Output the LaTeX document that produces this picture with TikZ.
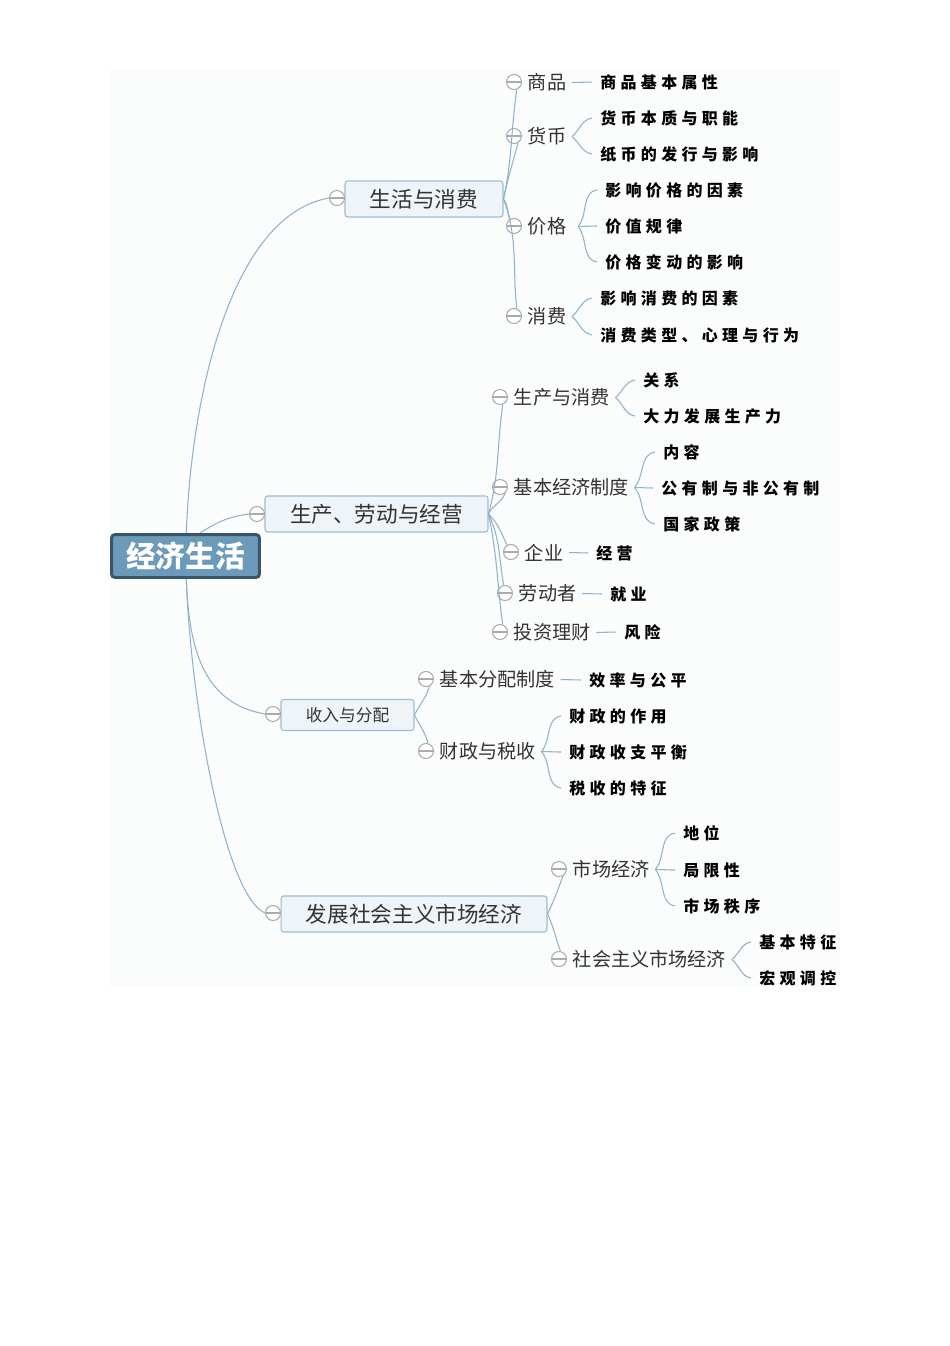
\documentclass[tikz,border=0pt]{standalone}
\usepackage{fontspec}
\setmainfont{Noto Sans CJK SC}
\newfontfamily\leaffont[LetterSpace=27]{Noto Sans CJK SC}
\usetikzlibrary{positioning}
\definecolor{linkblue}{HTML}{8FB3CC}
\definecolor{boxedge}{HTML}{9DBDD3}
\definecolor{boxfill}{HTML}{EFF4F8}
\definecolor{rootfill}{HTML}{6C9ABA}
\definecolor{rootedge}{HTML}{3A5468}
\definecolor{togglegray}{HTML}{ABABAB}
\definecolor{sheet}{HTML}{FBFCFC}
\definecolor{inkgray}{HTML}{333333}
\tikzset{
    root/.style={draw=rootedge, line width=1.7pt, fill=rootfill, rounded corners=2pt, text=white,
        font=\fontsize{16.9}{18}\selectfont\bfseries, minimum width=2.96cm, minimum height=0.86cm, inner sep=0pt},
    topic/.style={draw=boxedge, line width=0.6pt, fill=boxfill, rounded corners=1.5pt, text=inkgray,
        font=\fontsize{12.3}{14}\selectfont, minimum height=0.72cm, inner sep=0pt},
    smalltopic/.style={topic, font=\fontsize{9.5}{11}\selectfont, minimum height=0.62cm},
    toggle/.style={draw=togglegray, line width=0.6pt, fill=white, circle, minimum size=0.3cm, inner sep=0pt,
        path picture={\draw[togglegray, line width=0.6pt] (path picture bounding box.west) -- (path picture bounding box.east);}},
    subtopic/.style={text=inkgray, font=\fontsize{10.9}{13}\selectfont, inner xsep=0.11cm, inner ysep=0pt, yshift=-0.01cm},
    leaf/.style={anchor=west, text=black, font=\leaffont\fontsize{9.1}{10}\selectfont\bfseries, inner xsep=0.16cm, inner ysep=0pt},
    link/.style={draw=linkblue, line width=0.6pt}
}
\begin{document}
\begin{tikzpicture}[x=0.02cm, y=-0.02cm]
    \useasboundingbox (0,0) rectangle (950,1346);
    \fill[sheet] (110,68) rectangle (840,988);

    % Centre and main branches
    \node[root] (root) at (185.5,556) {经济生活};
    \node[topic, minimum width=3.16cm] (life) at (424,199) {生活与消费};
    \node[topic, minimum width=4.46cm] (work) at (376.5,514) {生产、劳动与经营};
    \node[smalltopic, minimum width=2.66cm] (income) at (347.5,715) {收入与分配};
    \node[topic, minimum width=5.32cm] (market) at (414,914) {发展社会主义市场经济};
    \foreach \nm/\xx/\yy in {life/337/198, work/257/514, income/273/714, market/273/913}
        \node[toggle] (t\nm) at (\xx,\yy) {};

    \draw[link] (root) to[out=88, in=190, out distance=2.7cm, in distance=2cm] (tlife.west);
    \draw[link] (root.58) to[out=32, in=187] (twork.west);
    \draw[link] (root) to[out=-88, in=170, out distance=1.5cm, in distance=1.2cm] (tincome.west);
    \draw[link] (root) to[out=-88, in=156, out distance=2.4cm, in distance=0.9cm] (tmarket.west);

    % Second level
    \foreach \nm/\xx/\yy/\txt in {goods/514/82/商品, money/514/136/货币, price/514/226/价格, spend/514/316/消费,
        prod/500/397/生产与消费, basic/500/487/基本经济制度, firm/511/552/企业, labor/505/593/劳动者, invest/500/632/投资理财,
        share/426/679/基本分配制度, tax/426/751/财政与税收,
        mkt/559/869/市场经济, social/559/959/社会主义市场经济} {
        \node[toggle] (t\nm) at (\xx,\yy) {};
        \node[subtopic, right=0pt of t\nm] (l\nm) {\txt};
    }

    \foreach \from/\to/\ang/\o/\i in {life/goods/-70/78/262, life/money/-60/78/255, life/price/120/-55/110, life/spend/70/-70/96,
        work/prod/-70/75/262, work/basic/-50/65/250, work/firm/120/-45/115, work/labor/100/-65/100, work/invest/70/-78/98,
        income/share/-65/65/255, income/tax/75/-65/105,
        market/mkt/-60/65/250, market/social/80/-65/110}
        \draw[link] (\from.east) to[out=\o, in=\i] (t\to.\ang);

    % Leaves
    \foreach \nm/\xx/\yy/\txt in {a1/592/82/商品基本属性, b1/592/118/货币本质与职能, b2/592/154/纸币的发行与影响,
        c1/597/190/影响价格的因素, c2/597/226/价值规律, c3/597/262/价格变动的影响,
        d1/592/298/影响消费的因素, d2/592/335/消费类型、心理与行为,
        e1/635/380/关系, e2/635/416/大力发展生产力,
        f1/655/452/内容, f2/653/488/公有制与非公有制, f3/655/524/国家政策,
        g1/588/553/经营, h1/602/594/就业, i1/616/632/风险,
        j1/581/680/效率与公平, k1/561/716/财政的作用, k2/561/752/财政收支平衡, k3/561/788/税收的特征,
        m1/675/833/地位, m2/675/870/局限性, m3/675/906/市场秩序,
        n1/751/942/基本特征, n2/751/978/宏观调控}
        \node[leaf] (\nm) at (\xx,\yy) {\txt};

    % Straight leaf links
    \foreach \from/\to in {goods/a1, firm/g1, labor/h1, invest/i1, share/j1}
        \draw[link] (l\from.east) -- (\to.west);
    % Fanned leaf links
    \foreach \from/\to/\o/\i in {money/b1/40/190, money/b2/-40/170,
        spend/d1/40/190, spend/d2/-40/170,
        prod/e1/40/190, prod/e2/-40/170,
        basic/f1/50/190, basic/f2/0/180, basic/f3/-50/170,
        tax/k1/50/190, tax/k2/0/180, tax/k3/-50/170,
        mkt/m1/50/190, mkt/m2/0/180, mkt/m3/-50/170,
        social/n1/40/190, social/n2/-40/170}
        \draw[link] (l\from.east) to[out=\o, in=\i] (\to.west);
    \foreach \to/\o/\i in {c1/50/190, c2/0/180, c3/-50/170}
        \draw[link] ([xshift=0.12cm]lprice.east) to[out=\o, in=\i] (\to.west);
\end{tikzpicture}
\end{document}
